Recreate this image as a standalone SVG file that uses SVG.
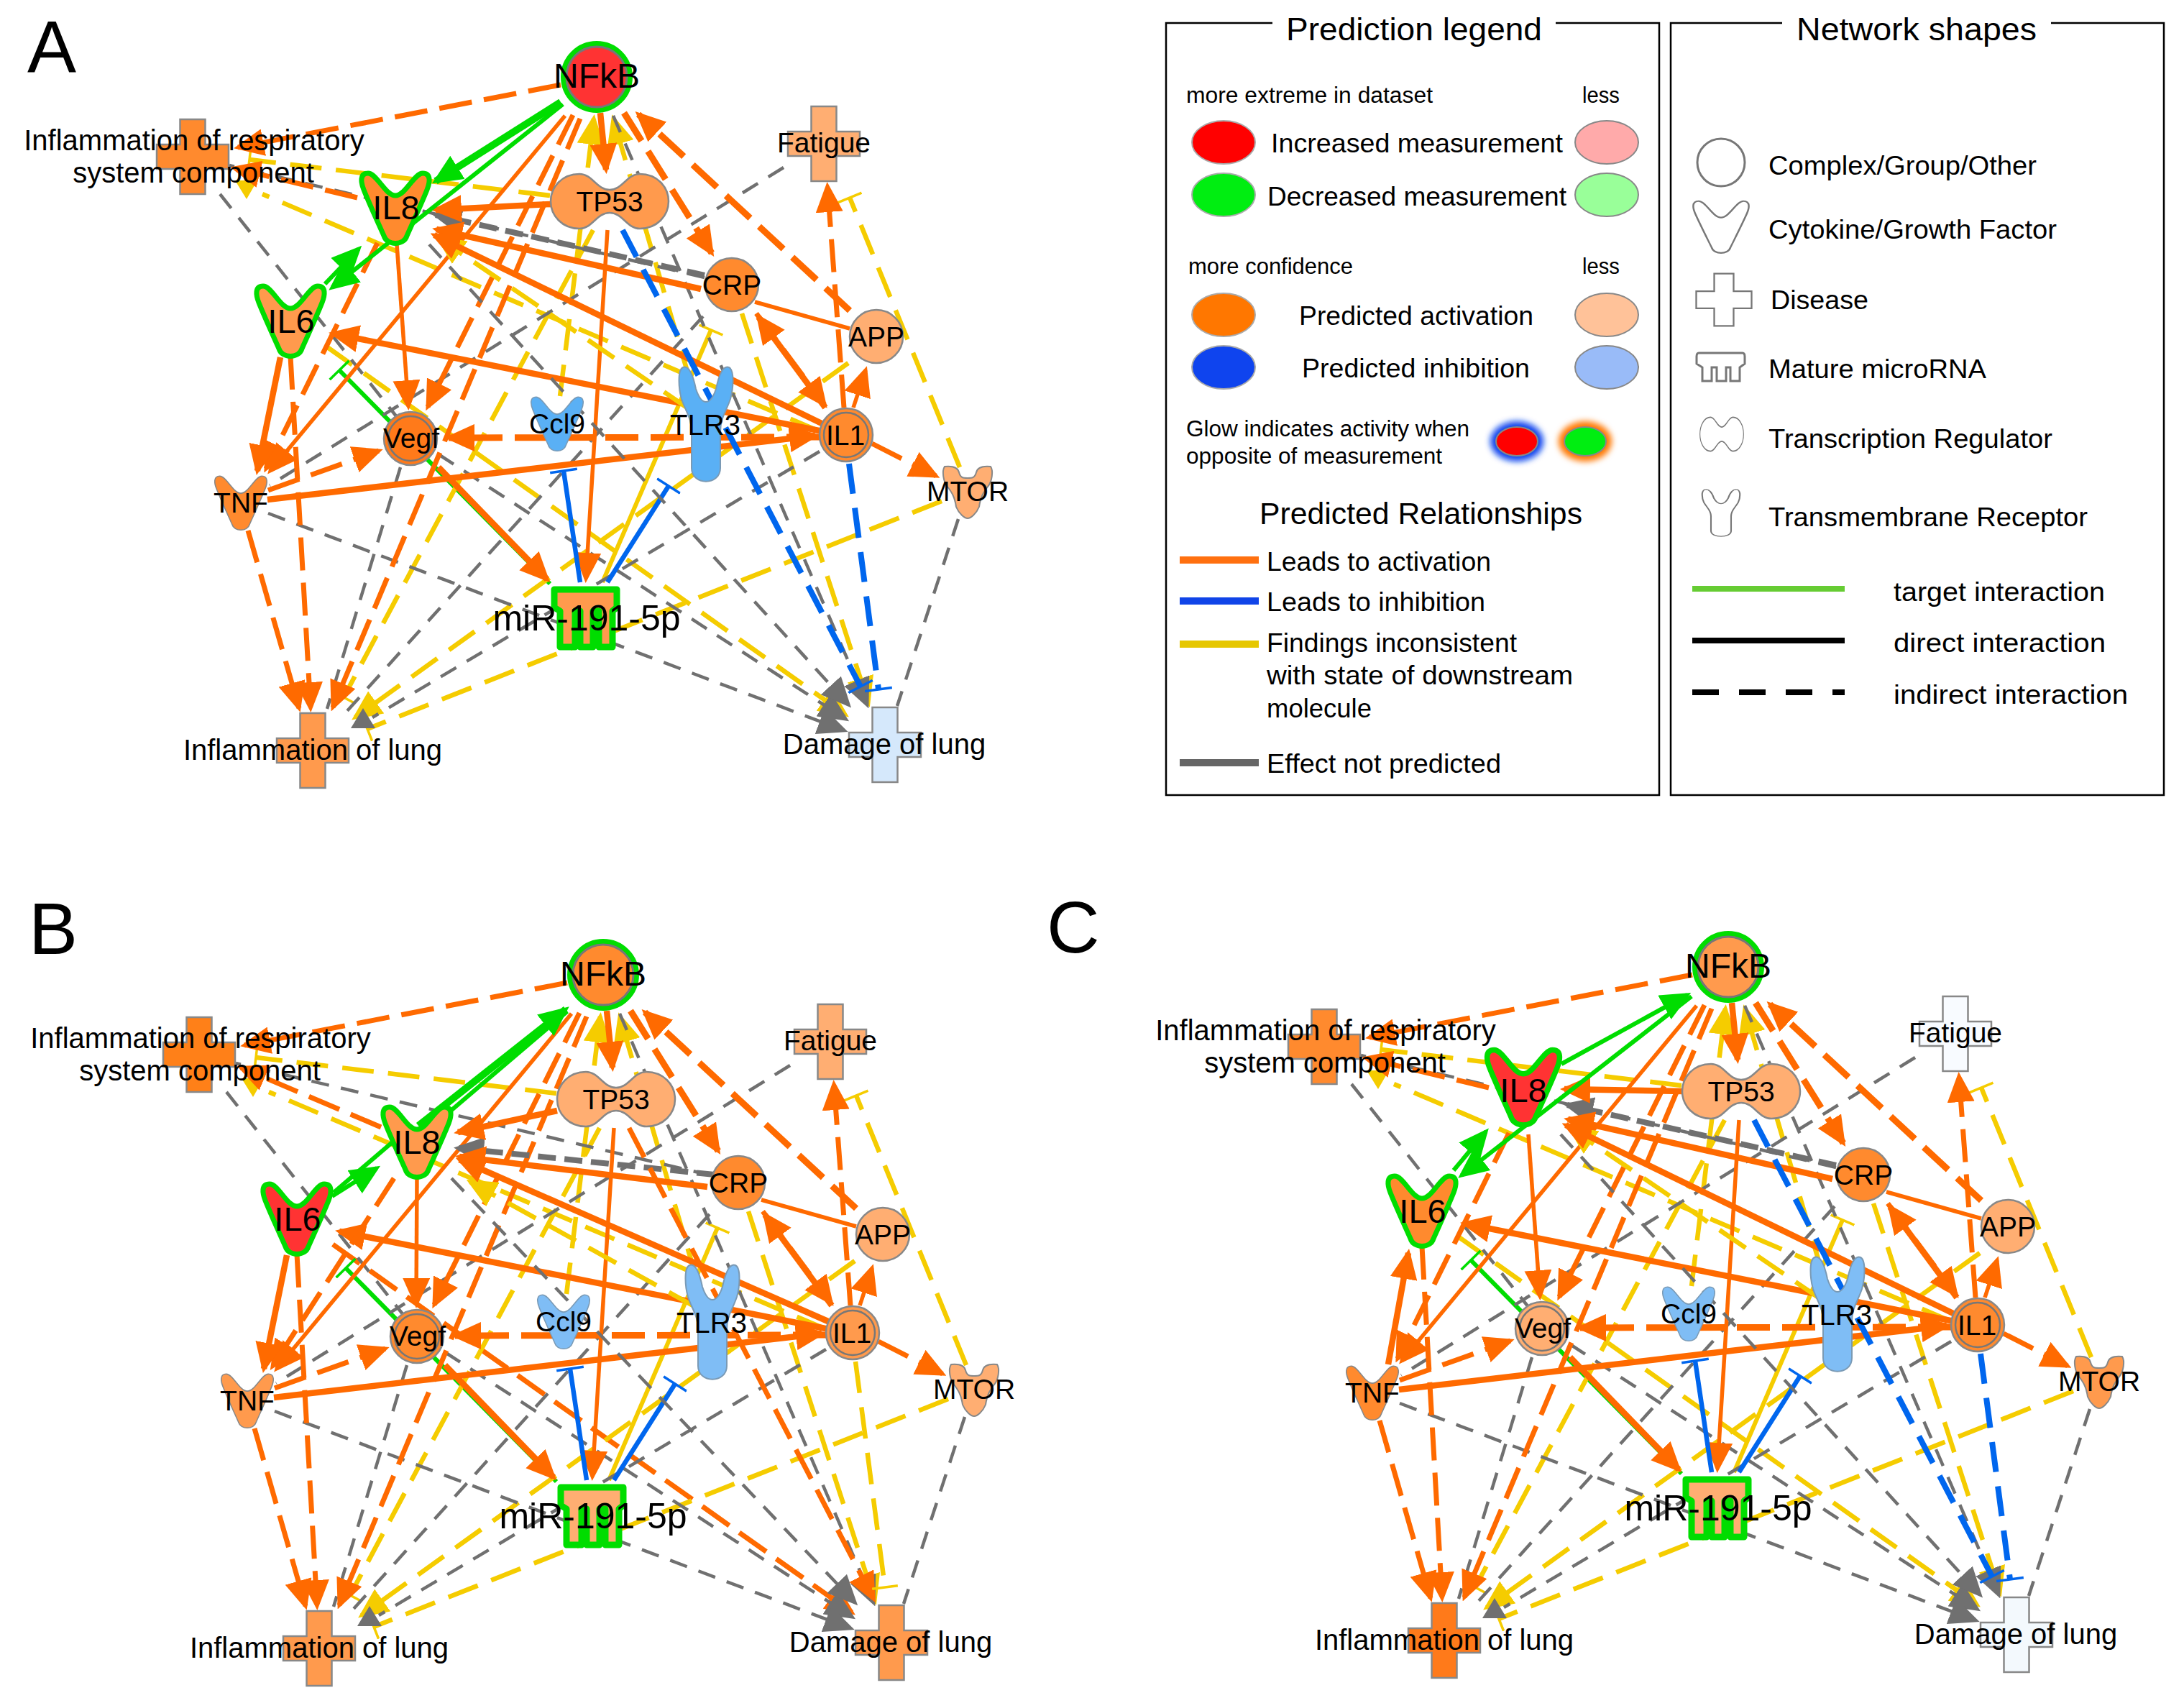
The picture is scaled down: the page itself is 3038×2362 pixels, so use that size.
<svg xmlns="http://www.w3.org/2000/svg" width="3038" height="2362" viewBox="0 0 3038 2362">
<style>
text{font-family:"Liberation Sans",Arial,sans-serif;fill:#000}
.n{text-anchor:middle;font-size:39px}
.L{font-size:36px}
.o,.os,.y,.ys,.k,.b,.bs,.g{fill:none}
.o{stroke:#ff6a00;stroke-width:7;stroke-dasharray:46 17}
.ot{stroke:#ff6a00;stroke-width:9;stroke-dasharray:46 17;fill:none}
.os{stroke:#ff6a00;stroke-width:5.5}
.ost{stroke:#ff6a00;stroke-width:8.5;fill:none}
.y{stroke:#f5cc00;stroke-width:6.5;stroke-dasharray:44 20}
.ys{stroke:#f5cc00;stroke-width:6}
.k{stroke:#707070;stroke-width:4.5;stroke-dasharray:25 17}
.kt{stroke:#707070;stroke-width:8;stroke-dasharray:25 12;fill:none}
.b{stroke:#0066ee;stroke-width:8;stroke-dasharray:42 20}
.bs{stroke:#0066ee;stroke-width:6.5}
.g{stroke:#00dd00;stroke-width:6}
.gt{stroke:#00dd00;stroke-width:10;fill:none}
.ao{marker-end:url(#mo)}.ay{marker-end:url(#my)}.ak{marker-end:url(#mk)}.ag{marker-end:url(#mg)}
.ty{marker-end:url(#ty)}.tb{marker-end:url(#tb)}.tg{marker-end:url(#tg)}
.s{stroke:#888;stroke-width:2.5}
.gl{stroke:#00dd00;stroke-width:7;stroke-linejoin:round}
.sh{fill:#fff;stroke:#777;stroke-width:3}
.f{stroke:#000;stroke-width:2.5;fill:none}
</style>
<defs>
<filter id="blur" x="-40%" y="-40%" width="180%" height="180%"><feGaussianBlur stdDeviation="4"/></filter>
<marker id="mo" markerUnits="userSpaceOnUse" markerWidth="42" markerHeight="38" refX="36" refY="19" orient="auto"><path d="M0 0L42 19L0 38Z" fill="#ff6a00"/></marker>
<marker id="my" markerUnits="userSpaceOnUse" markerWidth="42" markerHeight="38" refX="36" refY="19" orient="auto"><path d="M0 0L42 19L0 38Z" fill="#f5cc00"/></marker>
<marker id="mk" markerUnits="userSpaceOnUse" markerWidth="42" markerHeight="38" refX="36" refY="19" orient="auto"><path d="M0 0L42 19L0 38Z" fill="#707070"/></marker>
<marker id="mg" markerUnits="userSpaceOnUse" markerWidth="42" markerHeight="38" refX="36" refY="19" orient="auto"><path d="M0 0L42 19L0 38Z" fill="#00dd00"/></marker>
<marker id="ty" markerUnits="userSpaceOnUse" markerWidth="6" markerHeight="36" refX="3" refY="18" orient="auto"><path d="M3 0V36" stroke="#f5cc00" stroke-width="3.5"/></marker>
<marker id="tb" markerUnits="userSpaceOnUse" markerWidth="6" markerHeight="38" refX="3" refY="19" orient="auto"><path d="M3 0V38" stroke="#0066ee" stroke-width="3.5"/></marker>
<marker id="tg" markerUnits="userSpaceOnUse" markerWidth="6" markerHeight="38" refX="3" refY="19" orient="auto"><path d="M3 0V38" stroke="#00dd00" stroke-width="3.5"/></marker>
<path id="cy" d="M-38,-49C-26,-49 -14,-18 0,-18C14,-18 26,-49 38,-49C50,-49 48,-36 44,-26C36,-6 24,20 16,38C12,52 -12,52 -16,38C-24,20 -36,-6 -44,-26C-48,-36 -50,-49 -38,-49Z"/>
<path id="cr" d="M-17.5,-52H17.5V-17H50V17H17.5V52H-17.5V17H-50V-17H-17.5Z"/>
<path id="tr" d="M-42,-38C-24,-38 -18,-16 0,-16C18,-16 24,-38 42,-38C66,-38 82,-20 82,0C82,20 66,38 42,38C24,38 18,16 0,16C-18,16 -24,38 -42,38C-66,38 -82,20 -82,0C-82,-20 -66,-38 -42,-38Z"/>
<path id="tm" d="M-32,0C-24,-3 -18,10 -14,30C-10,42 -5,48 0,48C5,48 10,42 14,30C18,10 24,-3 32,0C40,4 38,30 34,44C28,62 20,70 20,90L20,140C20,165 -20,165 -20,140L-20,90C-20,70 -28,62 -34,44C-38,30 -40,4 -32,0Z"/>
<path id="mi" d="M-44,-40H43V-15L37,-10V40H18V-10H10V40H-8V-10H-15V40H-36V-10L-44,-15Z"/>
<path id="mt" d="M-32,-36C-22,-37 -14,-36 -12,-28C-10,-20 -6,-20 0,-20C6,-20 10,-20 12,-28C14,-36 22,-37 32,-36C36,-30 34,-15 28,-8C22,0 18,6 16,20C12,30 4,36 0,36C-4,36 -12,30 -16,20C-18,6 -22,0 -28,-8C-34,-15 -36,-30 -32,-36Z"/>

<g id="common">
<line class="g tg" x1="765" y1="812" x2="472" y2="515"/>
<line class="y ty" x1="765" y1="272" x2="347" y2="222"/>
<line class="y" x1="1140" y1="600" x2="365" y2="270"/>
<polygon points="327,251 358,251 343,277" fill="#f5cc00"/>
<line class="y ay" x1="960" y1="530" x2="853" y2="165"/>
<line class="y ay" x1="779" y1="551" x2="826" y2="165"/>
<line class="y ty" x1="825" y1="320" x2="478" y2="970"/>
<line class="y ay" x1="1180" y1="505" x2="494" y2="998"/>
<line class="y ty" x1="1310" y1="697" x2="511" y2="1014"/>
<line class="y ty" x1="1335" y1="650" x2="1182" y2="275"/>
<line class="ys ty" x1="838" y1="810" x2="989" y2="459"/>
<line class="y ay" x1="1032" y1="436" x2="1208" y2="978"/>
<line class="k" x1="1090" y1="233" x2="375" y2="675"/>
<line class="k ak" x1="853" y1="161" x2="1206" y2="980"/>
<line class="k" x1="980" y1="386" x2="319" y2="230"/>
<line class="k" x1="306" y1="270" x2="552" y2="580"/>
<line class="k ak" x1="610" y1="632" x2="1176" y2="1000"/>
<line class="k ak" x1="373" y1="714" x2="1174" y2="1016"/>
<line class="k" x1="557" y1="650" x2="455" y2="986"/>
<line class="k" x1="978" y1="440" x2="482" y2="990"/>
<line class="k" x1="1140" y1="628" x2="518" y2="998"/>
<line class="k" x1="1333" y1="722" x2="1248" y2="982"/>
<polygon points="505,985 488,1013 522,1013" fill="#707070"/>
<line class="o ao" x1="780" y1="118" x2="331" y2="205"/>
<line class="os ao" x1="786" y1="161" x2="376" y2="655"/>
<line class="o ao" x1="797" y1="160" x2="595" y2="566"/>
<line class="o ao" x1="807" y1="165" x2="463" y2="984"/>
<line class="ost ao" x1="835" y1="157" x2="843" y2="236"/>
<line class="ot ao" x1="868" y1="157" x2="990" y2="352"/>
<line class="ot ao" x1="1182" y1="432" x2="888" y2="159"/>
<line class="o ao" x1="1174" y1="567" x2="1151" y2="259"/>
<line class="os" x1="1182" y1="457" x2="1050" y2="420"/>
<line class="ost ao" x1="1148" y1="567" x2="1055" y2="441"/>
<line class="o ao" x1="1052" y1="436" x2="1147" y2="563"/>
<line class="os ao" x1="1187" y1="567" x2="1204" y2="515"/>
<line class="ot ao" x1="1140" y1="608" x2="624" y2="609"/>
<line class="o ao" x1="1213" y1="617" x2="1302" y2="662"/>
<line class="o ao" x1="373" y1="682" x2="527" y2="627"/>
<line class="ost ao" x1="372" y1="695" x2="1134" y2="606"/>
<line class="o ao" x1="404" y1="496" x2="432" y2="985"/>
<line class="o ao" x1="345" y1="738" x2="416" y2="985"/>
<line class="ost ao" x1="610" y1="650" x2="761" y2="806"/>
<line class="os ao" x1="845" y1="320" x2="815" y2="805"/>
<line class="ost ao" x1="1144" y1="600" x2="463" y2="464"/>
<line class="bs tb" x1="807" y1="810" x2="784" y2="655"/>
<line class="bs tb" x1="845" y1="810" x2="930" y2="676"/>
</g>

<g id="il8edges">
<line class="k ak" x1="597" y1="340" x2="1180" y2="980"/>
<line class="y ay" x1="960" y1="570" x2="610" y2="331"/>
<line class="kt ak" x1="980" y1="383" x2="606" y2="299"/>
<line class="ost ao" x1="975" y1="402" x2="607" y2="319"/>
<line class="ost ao" x1="1145" y1="590" x2="604" y2="327"/>
<line class="o ao" x1="497" y1="275" x2="326" y2="234"/>
<line class="os ao" x1="552" y1="340" x2="568" y2="565"/>
<line class="o ao" x1="525" y1="338" x2="370" y2="652"/>
</g>
</defs>

<!-- Panel letters -->
<text x="38" y="101" font-size="102">A</text>
<text x="40" y="1327" font-size="102">B</text>
<text x="1456" y="1325" font-size="102">C</text>

<!-- Panel A -->
<g id="panel-A">
<g id="A-connectors">
<line class="y ay" x1="454" y1="482" x2="1176" y2="994"/>
<use href="#common"/>
<use href="#il8edges"/>
<line class="b tb" x1="866" y1="320" x2="1197" y2="955"/>
<line class="b tb" x1="1181" y1="645" x2="1222" y2="959"/>
<line class="ost ao" x1="766" y1="284" x2="606" y2="292"/>
<line class="ost ao" x1="390" y1="497" x2="358" y2="655"/>
<line class="gt ag" x1="780" y1="142" x2="606" y2="252"/>
<line class="g ag" x1="783" y1="145" x2="462" y2="400"/>
<line class="g ag" x1="452" y1="395" x2="499" y2="346"/>
</g>
<g id="A-IR"><use href="#cr" x="268" y="218" fill="#ff8a2e" class="s"/><text class="n" x="270" y="209" font-size="40" style="font-size:40px">Inflammation of respiratory</text><text class="n" x="269" y="254" style="font-size:40px">system component</text></g>
<g id="A-NFkB"><circle cx="830" cy="107" r="46" fill="none" stroke="#00dd00" stroke-width="8"/><circle cx="830" cy="107" r="42" fill="#ff3333" stroke="#777" stroke-width="3"/><text class="n" x="830" y="122" style="font-size:48px">NFkB</text></g>
<g id="A-TP53"><use href="#tr" x="848" y="280" fill="#ff9a4d" class="s"/><text class="n" x="848" y="294">TP53</text></g>
<g id="A-Fatigue"><use href="#cr" x="1146" y="200" fill="#ffae72" class="s"/><text class="n" x="1146" y="212">Fatigue</text></g>
<g id="A-IL8"><use href="#cy" x="550" y="290" fill="#ff8a2e" class="gl"/><text class="n" x="551" y="305" style="font-size:47px">IL8</text></g>
<g id="A-IL6"><use href="#cy" x="404" y="447" fill="#ff9a4d" class="gl"/><text class="n" x="405" y="463" style="font-size:47px">IL6</text></g>
<g id="A-CRP"><ellipse cx="1018" cy="396" rx="37" ry="37" fill="#ff8a2e" stroke="#888" stroke-width="2.5"/><text class="n" x="1018" y="410">CRP</text></g>
<g id="A-APP"><circle cx="1219" cy="468" r="37" fill="#ffae72" stroke="#888" stroke-width="2.5"/><text class="n" x="1219" y="482">APP</text></g>
<g id="A-IL1"><circle cx="1177" cy="605" r="37" fill="#ff8a2e" stroke="#888" stroke-width="2.5"/><circle cx="1177" cy="605" r="31" fill="none" stroke="#777" stroke-width="2.5"/><text class="n" x="1176" y="619">IL1</text></g>
<g id="A-Vegf"><circle cx="571" cy="610" r="37" fill="#ff7a1a" stroke="#888" stroke-width="2.5"/><circle cx="571" cy="610" r="31" fill="none" stroke="#777" stroke-width="2.5"/><text class="n" x="572" y="623">Vegf</text></g>
<g id="A-Ccl9"><use href="#cy" transform="translate(775,590) scale(.77)" fill="#5ab0f5" stroke="#7a9ab5" stroke-width="2"/><text class="n" x="775" y="603">Ccl9</text></g>
<g id="A-TLR3"><use href="#tm" x="982" y="511" fill="#5ab0f5" stroke="#7a9ab5" stroke-width="2"/><text class="n" x="981" y="605" style="font-size:40px">TLR3</text></g>
<g id="A-TNF"><use href="#cy" transform="translate(335,700) scale(.77)" fill="#ff8a2e" stroke="#888" stroke-width="2"/><text class="n" x="335" y="713">TNF</text></g>
<g id="A-MTOR"><use href="#mt" x="1346" y="685" fill="#ffae72" stroke="#888" stroke-width="2"/><text class="n" x="1346" y="697">MTOR</text></g>
<g id="A-miR"><use href="#mi" x="815" y="860" fill="#ff9a4d" stroke="#00dd00" stroke-width="9" stroke-linejoin="round"/><text class="n" x="816" y="877" style="font-size:50px">miR-191-5p</text></g>
<g id="A-IL"><use href="#cr" x="435" y="1044" fill="#ff9a4d" class="s"/><text class="n" x="435" y="1057" style="font-size:40px">Inflammation of lung</text></g>
<g id="A-D"><use href="#cr" x="1231" y="1036" fill="#d5e8fb" class="s"/><text class="n" x="1230" y="1049" style="font-size:40px">Damage of lung</text></g>
</g>

<!-- Panel B -->
<g id="panel-B" transform="translate(9,1249)">
<g id="B-connectors">
<line class="o ao" x1="454" y1="482" x2="1176" y2="994"/>
<use href="#common"/>
<line class="k ak" x1="619" y1="390" x2="1180" y2="980"/>
<line class="y ay" x1="960" y1="570" x2="645" y2="395"/>
<line class="kt ak" x1="985" y1="385" x2="628" y2="348"/>
<line class="ost ao" x1="975" y1="402" x2="630" y2="360"/>
<line class="ost ao" x1="1145" y1="590" x2="630" y2="364"/>
<line class="o ao" x1="521" y1="319" x2="326" y2="236"/>
<line class="os ao" x1="571" y1="388" x2="570" y2="565"/>
<line class="o ao" x1="539" y1="390" x2="370" y2="652"/>
<line class="o ao" x1="866" y1="320" x2="1206" y2="975"/>
<line class="y ty" x1="1181" y1="645" x2="1222" y2="959"/>
<line class="ost ao" x1="766" y1="296" x2="628" y2="326"/>
<line class="ost ao" x1="390" y1="497" x2="358" y2="655"/>
<line class="gt ag" x1="573" y1="317" x2="778" y2="155"/>
<line class="g" x1="590" y1="320" x2="780" y2="158"/>
<line class="g ag" x1="453" y1="415" x2="515" y2="376"/>
<line class="g" x1="539" y1="338" x2="455" y2="410"/>
</g>
<g id="B-IR"><use href="#cr" x="268" y="218" fill="#ff8018" class="s"/><text class="n" x="270" y="209" style="font-size:40px">Inflammation of respiratory</text><text class="n" x="269" y="254" style="font-size:40px">system component</text></g>
<g id="B-NFkB"><circle cx="830" cy="107" r="46" fill="none" stroke="#00dd00" stroke-width="8"/><circle cx="830" cy="107" r="42" fill="#ff8a2e" stroke="#777" stroke-width="3"/><text class="n" x="830" y="122" style="font-size:48px">NFkB</text></g>
<g id="B-TP53"><use href="#tr" x="848" y="280" fill="#ffae72" class="s"/><text class="n" x="848" y="294">TP53</text></g>
<g id="B-Fatigue"><use href="#cr" x="1146" y="200" fill="#ffae72" class="s"/><text class="n" x="1146" y="212">Fatigue</text></g>
<g id="B-IL8"><use href="#cy" x="571" y="340" fill="#ff9a4d" class="gl"/><text class="n" x="571" y="356" style="font-size:47px">IL8</text></g>
<g id="B-IL6"><use href="#cy" x="404" y="447" fill="#ff3333" class="gl"/><text class="n" x="405" y="463" style="font-size:47px">IL6</text></g>
<g id="B-CRP"><circle cx="1018" cy="396" r="37" fill="#ff8a2e" stroke="#888" stroke-width="2.5"/><text class="n" x="1018" y="410">CRP</text></g>
<g id="B-APP"><circle cx="1219" cy="468" r="37" fill="#ffae72" stroke="#888" stroke-width="2.5"/><text class="n" x="1219" y="482">APP</text></g>
<g id="B-IL1"><circle cx="1177" cy="605" r="37" fill="#ff9a4d" stroke="#888" stroke-width="2.5"/><circle cx="1177" cy="605" r="31" fill="none" stroke="#777" stroke-width="2.5"/><text class="n" x="1176" y="619">IL1</text></g>
<g id="B-Vegf"><circle cx="571" cy="610" r="37" fill="#ff8a2e" stroke="#888" stroke-width="2.5"/><circle cx="571" cy="610" r="31" fill="none" stroke="#777" stroke-width="2.5"/><text class="n" x="572" y="623">Vegf</text></g>
<g id="B-Ccl9"><use href="#cy" transform="translate(775,590) scale(.77)" fill="#7fbdf5" stroke="#7a9ab5" stroke-width="2"/><text class="n" x="775" y="603">Ccl9</text></g>
<g id="B-TLR3"><use href="#tm" x="982" y="511" fill="#7fbdf5" stroke="#7a9ab5" stroke-width="2"/><text class="n" x="981" y="605" style="font-size:40px">TLR3</text></g>
<g id="B-TNF"><use href="#cy" transform="translate(335,700) scale(.77)" fill="#ff9a4d" stroke="#888" stroke-width="2"/><text class="n" x="335" y="713">TNF</text></g>
<g id="B-MTOR"><use href="#mt" x="1346" y="685" fill="#ffae72" stroke="#888" stroke-width="2"/><text class="n" x="1346" y="697">MTOR</text></g>
<g id="B-miR"><use href="#mi" x="815" y="860" fill="#ffae72" stroke="#00dd00" stroke-width="9" stroke-linejoin="round"/><text class="n" x="816" y="877" style="font-size:50px">miR-191-5p</text></g>
<g id="B-IL"><use href="#cr" x="435" y="1044" fill="#ff9a4d" class="s"/><text class="n" x="435" y="1057" style="font-size:40px">Inflammation of lung</text></g>
<g id="B-D"><use href="#cr" x="1231" y="1036" fill="#ff9a4d" class="s"/><text class="n" x="1230" y="1049" style="font-size:40px">Damage of lung</text></g>
</g>

<!-- Panel C -->
<g id="panel-C" transform="translate(1574,1238)">
<g id="C-connectors">
<line class="y ay" x1="454" y1="482" x2="1176" y2="994"/>
<use href="#common"/>
<use href="#il8edges"/>
<line class="b tb" x1="866" y1="320" x2="1197" y2="955"/>
<line class="b tb" x1="1181" y1="645" x2="1222" y2="959"/>
<line class="ost ao" x1="766" y1="280" x2="602" y2="277"/>
<line class="ost ao" x1="357" y1="660" x2="385" y2="505"/>
<line class="g ag" x1="598" y1="242" x2="773" y2="146"/>
<line class="g ag" x1="779" y1="148" x2="459" y2="397"/>
<line class="g ag" x1="448" y1="390" x2="493" y2="336"/>
</g>
<g id="C-IR"><use href="#cr" x="268" y="218" fill="#ff8a2e" class="s"/><text class="n" x="270" y="209" style="font-size:40px">Inflammation of respiratory</text><text class="n" x="269" y="254" style="font-size:40px">system component</text></g>
<g id="C-NFkB"><circle cx="830" cy="107" r="46" fill="none" stroke="#00dd00" stroke-width="8"/><circle cx="830" cy="107" r="42" fill="#ff9a4d" stroke="#777" stroke-width="3"/><text class="n" x="830" y="122" style="font-size:48px">NFkB</text></g>
<g id="C-TP53"><use href="#tr" x="848" y="280" fill="#ffae72" class="s"/><text class="n" x="848" y="294">TP53</text></g>
<g id="C-Fatigue"><use href="#cr" x="1146" y="200" fill="#f8fbff" class="s"/><text class="n" x="1146" y="212">Fatigue</text></g>
<g id="C-IL8"><use href="#cy" transform="translate(545,275) scale(1.07)" fill="#ff3333" class="gl"/><text class="n" x="545" y="295" style="font-size:47px">IL8</text></g>
<g id="C-IL6"><use href="#cy" x="404" y="447" fill="#ff8a2e" class="gl"/><text class="n" x="405" y="463" style="font-size:47px">IL6</text></g>
<g id="C-CRP"><circle cx="1018" cy="396" r="37" fill="#ff8a2e" stroke="#888" stroke-width="2.5"/><text class="n" x="1018" y="410">CRP</text></g>
<g id="C-APP"><circle cx="1219" cy="468" r="37" fill="#ffae72" stroke="#888" stroke-width="2.5"/><text class="n" x="1219" y="482">APP</text></g>
<g id="C-IL1"><circle cx="1177" cy="605" r="37" fill="#ff8a2e" stroke="#888" stroke-width="2.5"/><circle cx="1177" cy="605" r="31" fill="none" stroke="#777" stroke-width="2.5"/><text class="n" x="1176" y="619">IL1</text></g>
<g id="C-Vegf"><circle cx="571" cy="610" r="37" fill="#ffae72" stroke="#888" stroke-width="2.5"/><circle cx="571" cy="610" r="31" fill="none" stroke="#777" stroke-width="2.5"/><text class="n" x="572" y="623">Vegf</text></g>
<g id="C-Ccl9"><use href="#cy" transform="translate(775,590) scale(.77)" fill="#7fbdf5" stroke="#7a9ab5" stroke-width="2"/><text class="n" x="775" y="603">Ccl9</text></g>
<g id="C-TLR3"><use href="#tm" x="982" y="511" fill="#7fbdf5" stroke="#7a9ab5" stroke-width="2"/><text class="n" x="981" y="605" style="font-size:40px">TLR3</text></g>
<g id="C-TNF"><use href="#cy" transform="translate(335,700) scale(.77)" fill="#ff8a2e" stroke="#888" stroke-width="2"/><text class="n" x="335" y="713">TNF</text></g>
<g id="C-MTOR"><use href="#mt" x="1346" y="685" fill="#ff9a4d" stroke="#888" stroke-width="2"/><text class="n" x="1346" y="697">MTOR</text></g>
<g id="C-miR"><use href="#mi" x="815" y="860" fill="#ffae72" stroke="#00dd00" stroke-width="9" stroke-linejoin="round"/><text class="n" x="816" y="877" style="font-size:50px">miR-191-5p</text></g>
<g id="C-IL"><use href="#cr" x="435" y="1044" fill="#ff7a1a" class="s"/><text class="n" x="435" y="1057" style="font-size:40px">Inflammation of lung</text></g>
<g id="C-D"><use href="#cr" x="1231" y="1036" fill="#f3f9fd" class="s"/><text class="n" x="1230" y="1049" style="font-size:40px">Damage of lung</text></g>
</g>

<!-- Prediction legend -->
<g id="prediction-legend">
<path class="f" d="M1770,32H1622V1106H2308V32H2164"/>
<text x="1789" y="56" font-size="44" textLength="356" lengthAdjust="spacingAndGlyphs">Prediction legend</text>
<text x="1650" y="143" font-size="31" textLength="343" lengthAdjust="spacingAndGlyphs">more extreme in dataset</text>
<text x="2201" y="143" font-size="31" textLength="52" lengthAdjust="spacingAndGlyphs">less</text>
<ellipse cx="1702" cy="198" rx="44" ry="30" fill="#ff0000" stroke="#aaa" stroke-width="2"/>
<ellipse cx="2235" cy="198" rx="44" ry="30" fill="#ffaaaa" stroke="#888" stroke-width="2"/>
<text class="L" x="1768" y="212" textLength="406" lengthAdjust="spacingAndGlyphs">Increased measurement</text>
<ellipse cx="1702" cy="271" rx="44" ry="30" fill="#00ee11" stroke="#aaa" stroke-width="2"/>
<ellipse cx="2235" cy="271" rx="44" ry="30" fill="#99ff99" stroke="#888" stroke-width="2"/>
<text class="L" x="1763" y="286" textLength="416" lengthAdjust="spacingAndGlyphs">Decreased measurement</text>
<text x="1653" y="381" font-size="31" textLength="229" lengthAdjust="spacingAndGlyphs">more confidence</text>
<text x="2201" y="381" font-size="31" textLength="52" lengthAdjust="spacingAndGlyphs">less</text>
<ellipse cx="1702" cy="438" rx="44" ry="30" fill="#ff7700" stroke="#aaa" stroke-width="2"/>
<ellipse cx="2235" cy="438" rx="44" ry="30" fill="#ffc299" stroke="#888" stroke-width="2"/>
<text class="L" x="1807" y="452" textLength="326" lengthAdjust="spacingAndGlyphs">Predicted activation</text>
<ellipse cx="1702" cy="511" rx="44" ry="30" fill="#0f44ee" stroke="#aaa" stroke-width="2"/>
<ellipse cx="2235" cy="511" rx="44" ry="30" fill="#99bbf8" stroke="#888" stroke-width="2"/>
<text class="L" x="1811" y="525" textLength="317" lengthAdjust="spacingAndGlyphs">Predicted inhibition</text>
<text x="1650" y="607" font-size="31" textLength="394" lengthAdjust="spacingAndGlyphs">Glow indicates activity when</text>
<text x="1650" y="645" font-size="31" textLength="356" lengthAdjust="spacingAndGlyphs">opposite of measurement</text>
<ellipse cx="2110" cy="614" rx="37" ry="28" fill="#1144ee" filter="url(#blur)"/>
<ellipse cx="2110" cy="614" rx="29" ry="20" fill="#ff0000" stroke="#888" stroke-width="2"/>
<ellipse cx="2205" cy="614" rx="37" ry="28" fill="#ff7700" filter="url(#blur)"/>
<ellipse cx="2205" cy="614" rx="29" ry="20" fill="#00ee11" stroke="#888" stroke-width="2"/>
<text x="1752" y="729" font-size="42" textLength="449" lengthAdjust="spacingAndGlyphs">Predicted Relationships</text>
<rect x="1641" y="774" width="110" height="10" fill="#ff7010"/>
<text class="L" x="1762" y="794" textLength="312" lengthAdjust="spacingAndGlyphs">Leads to activation</text>
<rect x="1641" y="831" width="110" height="10" fill="#1044e8"/>
<text class="L" x="1762" y="850" textLength="304" lengthAdjust="spacingAndGlyphs">Leads to inhibition</text>
<rect x="1641" y="891" width="110" height="10" fill="#e6c700"/>
<text class="L" x="1762" y="907" textLength="348" lengthAdjust="spacingAndGlyphs">Findings inconsistent</text>
<text class="L" x="1762" y="952" textLength="426" lengthAdjust="spacingAndGlyphs">with state of downstream</text>
<text class="L" x="1762" y="998" textLength="146" lengthAdjust="spacingAndGlyphs">molecule</text>
<rect x="1641" y="1056" width="110" height="10" fill="#666"/>
<text class="L" x="1762" y="1075" textLength="326" lengthAdjust="spacingAndGlyphs">Effect not predicted</text>
</g>

<!-- Network shapes -->
<g id="network-shapes">
<path class="f" d="M2479,32H2324V1106H3010V32H2853"/>
<text x="2499" y="56" font-size="44" textLength="334" lengthAdjust="spacingAndGlyphs">Network shapes</text>
<circle class="sh" cx="2394" cy="226" r="33"/>
<text class="L" x="2460" y="243" textLength="373" lengthAdjust="spacingAndGlyphs">Complex/Group/Other</text>
<use href="#cy" class="sh" transform="translate(2394,316) scale(.82,.74)"/>
<text class="L" x="2460" y="332" textLength="401" lengthAdjust="spacingAndGlyphs">Cytokine/Growth Factor</text>
<use href="#cr" class="sh" transform="translate(2398,417) scale(.77,.7)"/>
<text class="L" x="2463" y="430" textLength="136" lengthAdjust="spacingAndGlyphs">Disease</text>
<path class="sh" d="M2363,491H2424Q2427,491 2427,496V506L2420,511V530H2407V511H2401V530H2388V511H2381V530H2368V511L2360,506V496Q2360,491 2363,491Z"/>
<text class="L" x="2460" y="526" textLength="303" lengthAdjust="spacingAndGlyphs">Mature microRNA</text>
<use href="#tr" class="sh" transform="translate(2395,604) scale(.37,.62)"/>
<text class="L" x="2460" y="623" textLength="395" lengthAdjust="spacingAndGlyphs">Transcription Regulator</text>
<use href="#tm" class="sh" transform="translate(2394,681) scale(.7,.41)"/>
<text class="L" x="2460" y="732" textLength="444" lengthAdjust="spacingAndGlyphs">Transmembrane Receptor</text>
<rect x="2354" y="815" width="212" height="8" fill="#66cc33"/>
<text class="L" x="2634" y="836" textLength="294" lengthAdjust="spacingAndGlyphs">target interaction</text>
<rect x="2354" y="887" width="212" height="8" fill="#000"/>
<text class="L" x="2634" y="907" textLength="295" lengthAdjust="spacingAndGlyphs">direct interaction</text>
<line x1="2354" y1="963" x2="2566" y2="963" stroke="#000" stroke-width="8" stroke-dasharray="37 28"/>
<text class="L" x="2634" y="979" textLength="326" lengthAdjust="spacingAndGlyphs">indirect interaction</text>
</g>
</svg>
